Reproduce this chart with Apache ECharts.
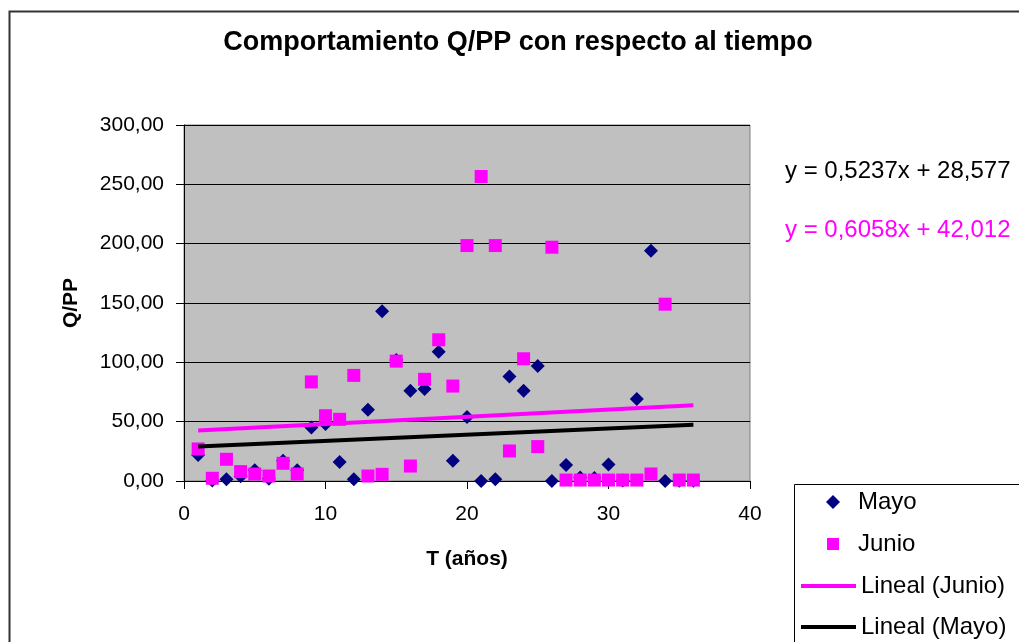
<!DOCTYPE html>
<html>
<head>
<meta charset="utf-8">
<title>Comportamiento Q/PP con respecto al tiempo</title>
<script src="https://cdn.jsdelivr.net/npm/echarts@6/dist/echarts.min.js"></script>
<style>
  html, body { margin: 0; padding: 0; background: #ffffff; }
  #chart { width: 1019px; height: 642px; }
</style>
</head>
<body>
<div id="chart"></div>
<script>
// T (años)
const years = [1, 2, 3, 4, 5, 6, 7, 8, 9, 10, 11, 12, 13, 14, 15, 16, 17, 18,
               19, 20, 21, 22, 23, 24, 25, 26, 27, 28, 29, 30, 31, 32, 33, 34, 35, 36];

// Q/PP por año
const mayo = [22, 0.5, 1.4, 4, 9, 2, 17, 9, 45, 48, 16, 1.5, 60, 143, 102, 76, 77.6, 109,
              17, 54, 0, 1.4, 88, 76, 97, 0, 13.5, 3, 2.5, 14, 0.5, 69, 194, 0, 0.3, 0.3];
const junio = [27, 2.3, 18.3, 7.9, 5.9, 4.2, 14.9, 5.9, 83.5, 55, 52, 89, 4.2, 5.6, 101, 12.6, 85.7, 119,
               80, 198.4, 256.6, 198.4, 25.3, 103, 29, 197, 0.8, 0.8, 0.8, 0.8, 0.8, 0.8, 5.9, 149, 0.8, 0.8];

// Rectas de tendencia lineal: [pendiente, ordenada]
const mayoFit = [0.5237, 28.577];
const junioFit = [0.6058, 42.012];

const xTicks = [0, 10, 20, 30, 40];
const yTicks = [0, 50, 100, 150, 200, 250, 300];

const NAVY = '#000080';
const MAGENTA = '#FF00FF';
const FONT = '"Liberation Sans", Arial, sans-serif';

const pairs = (xs, ys) => xs.map((x, i) => [x, ys[i]]);
const fitLine = (fit) => {
  const x0 = years[0], x1 = years[years.length - 1];
  return [[x0, fit[0] * x0 + fit[1]], [x1, fit[0] * x1 + fit[1]]];
};
const comma = (v, d) => v.toFixed(d).replace('.', ',');
const equation = (fit) => 'y = ' + comma(fit[0], 4) + 'x + ' + comma(fit[1], 3);

const chart = echarts.init(document.getElementById('chart'), null, { renderer: 'canvas' });

const legendText = { fontFamily: FONT, fontSize: 24, color: '#000', lineHeight: 24 };

chart.setOption({
  backgroundColor: '#ffffff',
  animation: false,
  grid: {
    left: 184, top: 125, right: 269, bottom: 161,
    show: true, backgroundColor: '#C0C0C0', borderColor: '#808080', borderWidth: 1
  },
  xAxis: {
    type: 'value',
    min: xTicks[0], max: xTicks[xTicks.length - 1], interval: 10,
    name: 'T (años)', nameLocation: 'middle', nameGap: 68,
    nameTextStyle: { fontFamily: FONT, fontSize: 21, fontWeight: 'bold', color: '#000' },
    axisLine: { lineStyle: { color: '#000', width: 1 } },
    axisTick: { show: true, inside: false, length: 8, lineStyle: { color: '#000' } },
    axisLabel: { margin: 23, fontFamily: FONT, fontSize: 21, color: '#000' },
    splitLine: { show: false }
  },
  yAxis: {
    type: 'value',
    min: yTicks[0], max: yTicks[yTicks.length - 1], interval: 50,
    name: 'Q/PP', nameLocation: 'middle', nameGap: 102,
    nameTextStyle: { fontFamily: FONT, fontSize: 21, fontWeight: 'bold', color: '#000' },
    axisLine: { show: true, lineStyle: { color: '#000', width: 1 } },
    axisTick: { show: true, inside: false, length: 8, lineStyle: { color: '#000' } },
    axisLabel: { margin: 20, fontFamily: FONT, fontSize: 21, color: '#000',
                 formatter: (v) => comma(v, 2) },
    splitLine: { show: true, lineStyle: { color: '#000', width: 1 } }
  },
  legend: [
    { data: [{ name: 'Mayo', icon: 'diamond' }], orient: 'vertical', left: 821, top: 485,
      itemWidth: 14, itemHeight: 14, textStyle: Object.assign({ padding: [0, 0, 0, 13] }, legendText) },
    { data: [{ name: 'Junio', icon: 'rect' }], orient: 'vertical', left: 822, top: 527,
      itemWidth: 12, itemHeight: 12, textStyle: Object.assign({ padding: [0, 0, 0, 14] }, legendText) },
    { data: [{ name: 'Lineal (Junio)', icon: 'rect' }], orient: 'vertical', left: 796, top: 569,
      itemWidth: 55, itemHeight: 4, textStyle: legendText },
    { data: [{ name: 'Lineal (Mayo)', icon: 'rect' }], orient: 'vertical', left: 796, top: 610,
      itemWidth: 55, itemHeight: 4, textStyle: legendText }
  ],
  graphic: [
    { type: 'rect', left: 7, top: 9, silent: true, z: -1,
      shape: { x: 0, y: 0, width: 1100, height: 700 },
      style: { fill: 'none', stroke: '#333', lineWidth: 2 } },
    { type: 'text', x: 518, y: 43, silent: true,
      style: { text: 'Comportamiento Q/PP con respecto al tiempo', fill: '#000',
               font: 'bold 27px ' + FONT, textAlign: 'center', textVerticalAlign: 'middle' } },
    { type: 'rect', left: 792, top: 482, silent: true,
      shape: { x: 0, y: 0, width: 400, height: 300 },
      style: { fill: 'none', stroke: '#000', lineWidth: 1 } },
    { type: 'text', x: 785, y: 171, silent: true,
      style: { text: equation(mayoFit), fill: '#000', font: '24px ' + FONT,
               textVerticalAlign: 'middle' } },
    { type: 'text', x: 785, y: 230, silent: true,
      style: { text: equation(junioFit), fill: MAGENTA, font: '24px ' + FONT,
               textVerticalAlign: 'middle' } }
  ],
  series: [
    { name: 'Mayo', type: 'scatter', symbol: 'diamond', symbolSize: 14,
      itemStyle: { color: NAVY, opacity: 1 }, data: pairs(years, mayo), z: 2 },
    { name: 'Junio', type: 'scatter', symbol: 'rect', symbolSize: 13,
      itemStyle: { color: MAGENTA, opacity: 1 }, data: pairs(years, junio), z: 3 },
    { name: 'Lineal (Junio)', type: 'line', showSymbol: false, symbol: 'none',
      lineStyle: { color: MAGENTA, width: 4 }, itemStyle: { color: MAGENTA },
      data: fitLine(junioFit), z: 4 },
    { name: 'Lineal (Mayo)', type: 'line', showSymbol: false, symbol: 'none',
      lineStyle: { color: '#000', width: 4 }, itemStyle: { color: '#000' },
      data: fitLine(mayoFit), z: 4 }
  ]
});
</script>
</body>
</html>
